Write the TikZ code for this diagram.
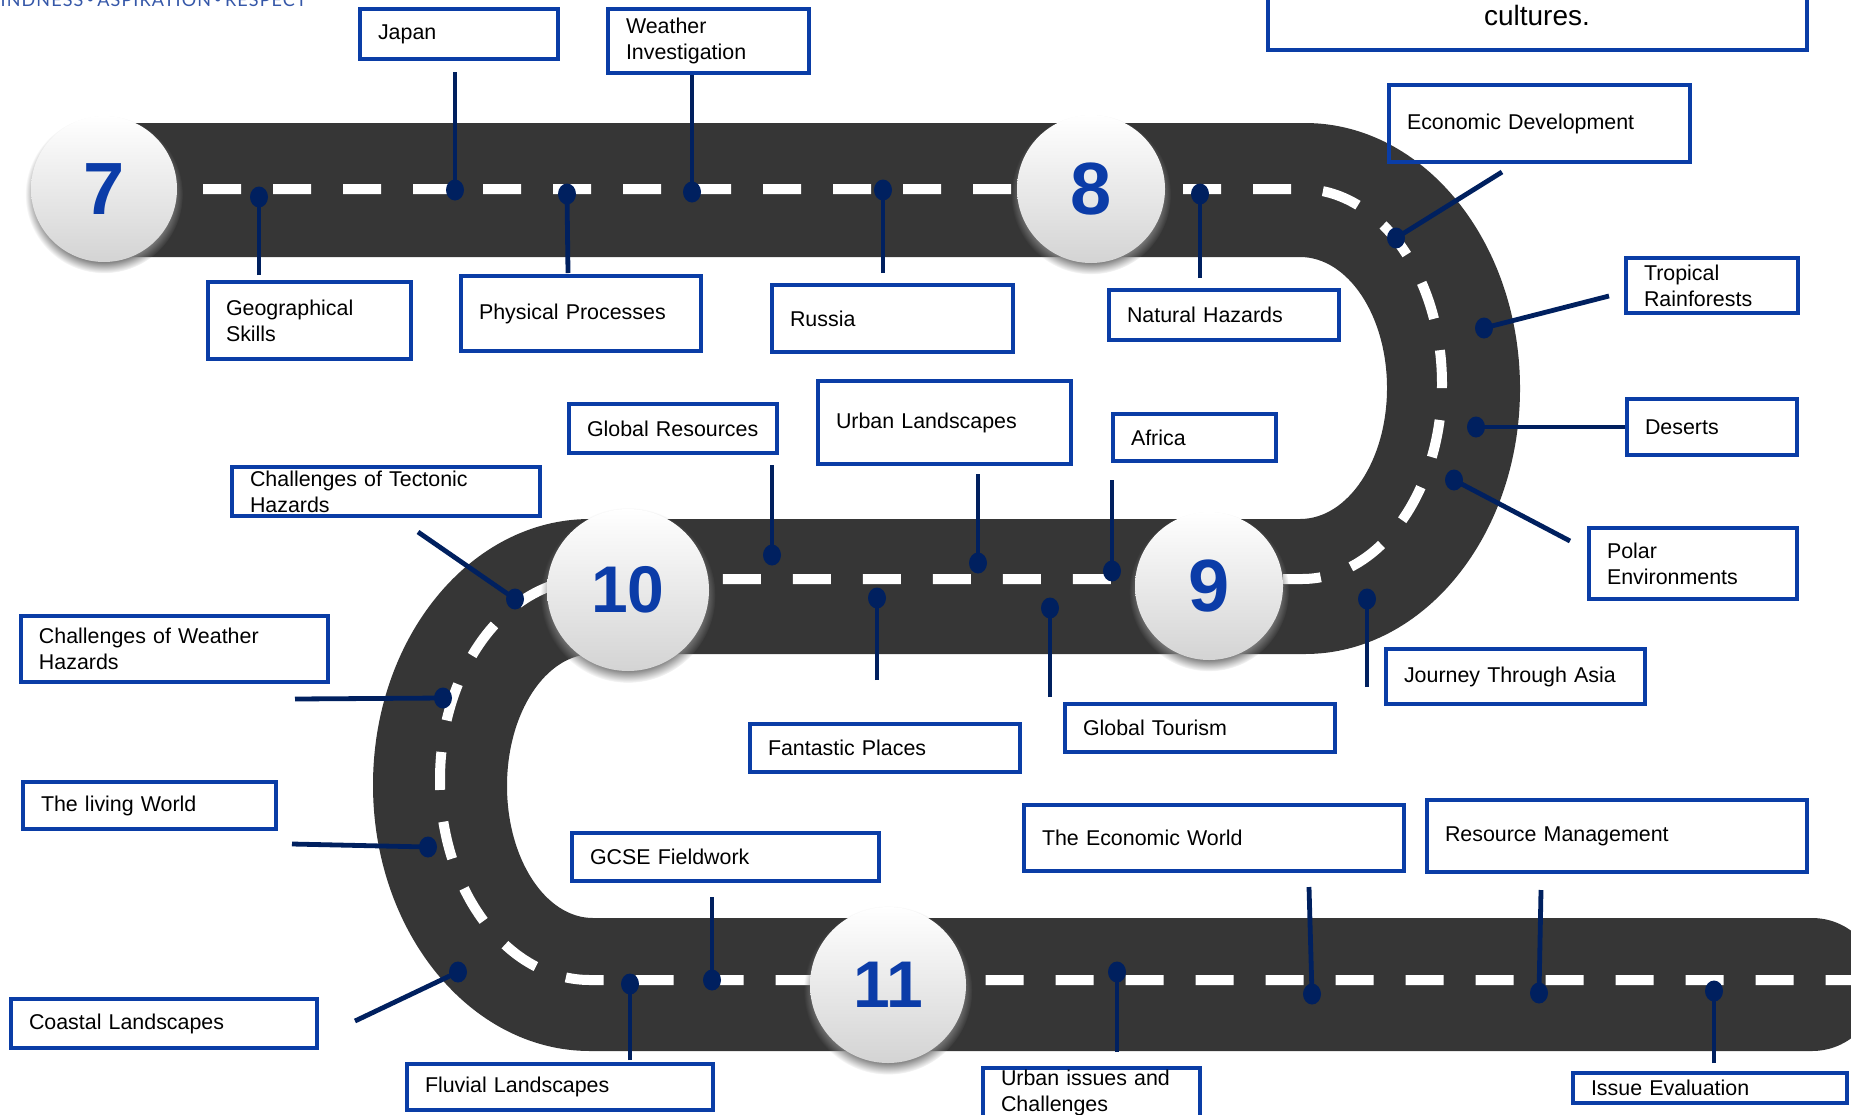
\documentclass[tikz,border=0pt]{standalone}
\usepackage{fontspec}
\setmainfont{Liberation Sans}
\newfontfamily\mottofont[LetterSpace=6]{Lato}
\usetikzlibrary{shadows}
\definecolor{roadgray}{HTML}{363636}
\definecolor{boxblue}{HTML}{0A3DA6}
\definecolor{navy}{HTML}{00205F}
\definecolor{numblue}{HTML}{0B3CA8}
\definecolor{mottoblue}{HTML}{3557A8}
\tikzset{
  lbox/.style={draw=boxblue, line width=2pt, rectangle, inner xsep=9pt, inner ysep=0.5pt,
    align=left, font=\fontsize{10.7}{13}\selectfont},
  conn/.style={draw=navy, line width=2.4pt},
  dotmark/.style={fill=navy},
  milestone/.style={circle, top color=white, bottom color=black!17, draw=none,
    circular drop shadow={shadow xshift=0pt, shadow yshift=-2.5pt, shadow scale=1.08},
    text=numblue, inner sep=0pt},
  bignum/.style={font=\bfseries\fontsize{37}{37}\selectfont},
  midnum/.style={font=\bfseries\fontsize{33}{33}\selectfont},
  road/.style={fill=roadgray},
  centerline/.style={draw=white, line width=5pt, dash pattern=on 19pt off 16pt},
}
\newcommand{\roadlabel}[6]{%
  \pgfmathsetmacro\bw{(#4-#2-4)*0.5}%
  \pgfmathsetmacro\bh{(#5-#3-4)*0.5}%
  \pgfmathsetmacro\tw{\bw-18}%
  \node[lbox, minimum width=\bw pt, minimum height=\bh pt, text width=\tw pt] (#1) at ({(#2+#4)/2},{(#3+#5)/2}) {#6};}
\newcommand{\roadlink}[5]{%
  \coordinate (d#1) at (#2,#3);
  \coordinate (e#1) at (#4,#5);
  \draw[conn] (e#1) -- (d#1);
  \fill[dotmark] (d#1) ellipse[x radius=9, y radius=10.5];}
\begin{document}
\begin{tikzpicture}[x=0.5pt, y=-0.5pt]
\useasboundingbox (0,0) rectangle (1851,1114);
\clip (0,0) rectangle (1851,1114);
% road
\fill[road] (110,123) -- (1305,123)
  arc[start angle=-90, end angle=90, x radius=215, y radius=265.5]
  -- (593,654)
  arc[start angle=-90, end angle=-270, x radius=86, y radius=132]
  -- (1812,918)
  arc[start angle=-90, end angle=90, x radius=66.5, y radius=66.5]
  -- (590,1051)
  arc[start angle=90, end angle=270, x radius=217, y radius=266]
  -- (1300,519)
  arc[start angle=90, end angle=-90, x radius=87, y radius=131]
  -- (110,257) -- cycle;
% centre line
\draw[centerline] (203,189) -- (1302,189)
  arc[start angle=-90, end angle=90, x radius=140, y radius=195]
  -- (590,579)
  arc[start angle=-90, end angle=-270, x radius=150, y radius=200.5]
  -- (1870,980);
% milestones
\node[milestone, bignum, minimum size=73pt] (m7) at (104,189) {7};
\node[milestone, bignum, minimum size=74pt] (m8) at (1091,189) {8};
\node[milestone, bignum, minimum size=74pt] (m9) at (1209,586) {9};
\node[milestone, midnum, minimum size=81pt] (m10) at (628,590) {10};
\node[milestone, midnum, minimum size=78pt] (m11) at (888,985) {11};
% motto
\node[anchor=base east, text=mottoblue, inner sep=0pt, font=\mottofont\fontsize{9}{9}\selectfont] (motto) at (307,6) {KINDNESS\,\raisebox{0.15em}{\scriptsize•}\,ASPIRATION\,\raisebox{0.15em}{\scriptsize•}\,RESPECT};
% top box
\node[draw=boxblue, line width=2pt, rectangle, minimum width=269.5pt, minimum height=45pt, inner sep=0pt] (topbox) at (1537.5,5) {};
\node[anchor=base, inner sep=0pt, font=\fontsize{14}{14}\selectfont] (toptext) at (1537,25) {cultures.};
% connectors
\roadlink{geog}{259}{197}{259}{275}
\roadlink{japan}{455}{190}{455}{72}
\roadlink{phys}{567}{194}{568}{273}
\roadlink{weather}{692}{192}{692}{75}
\roadlink{russia}{883}{190}{883}{273}
\roadlink{nathaz}{1200}{194}{1200}{278}
\roadlink{ecodev}{1396}{238}{1502}{172}
\roadlink{tropical}{1484}{328}{1609}{296}
\roadlink{deserts}{1476}{427}{1625}{427}
\roadlink{polar}{1454}{480}{1570}{541}
\roadlink{journey}{1367}{599}{1367}{687}
\roadlink{globalres}{772}{555}{772}{465}
\roadlink{fantastic}{877}{598}{877}{680}
\roadlink{urbanland}{978}{563}{978}{474}
\roadlink{tourism}{1050}{608}{1050}{697}
\roadlink{africa}{1112}{571}{1112}{480}
\roadlink{tectonic}{515}{599}{418}{532}
\roadlink{weatherhz}{443}{698}{295}{699}
\roadlink{living}{428}{847}{292}{844}
\roadlink{coastal}{458}{972}{355}{1021}
\roadlink{fluvial}{630}{984}{630}{1060}
\roadlink{gcse}{712}{980}{712}{897}
\roadlink{urbanissues}{1117}{972}{1117}{1052}
\roadlink{ecoworld}{1312}{994}{1309}{887}
\roadlink{resmgmt}{1539}{993}{1541}{890}
\roadlink{issueeval}{1714}{991}{1714}{1063}
% label boxes
\roadlabel{japan}{358}{7}{560}{61}{Japan}
\roadlabel{weather}{606}{7}{811}{75}{Weather\\Investigation}
\roadlabel{geog}{206}{280}{413}{361}{Geographical\\Skills}
\roadlabel{phys}{459}{274}{703}{353}{Physical Processes}
\roadlabel{russia}{770}{283}{1015}{354}{Russia}
\roadlabel{nathaz}{1107}{288}{1341}{342}{Natural Hazards}
\roadlabel{ecodev}{1387}{83}{1692}{164}{Economic Development}
\roadlabel{tropical}{1624}{256}{1800}{315}{Tropical\\Rainforests}
\roadlabel{deserts}{1625}{397}{1799}{457}{Deserts}
\roadlabel{polar}{1587}{526}{1799}{601}{Polar\\Environments}
\roadlabel{journey}{1384}{647}{1647}{706}{Journey Through Asia}
\roadlabel{tourism}{1063}{702}{1337}{754}{Global Tourism}
\roadlabel{africa}{1111}{412}{1278}{463}{Africa}
\roadlabel{urbanland}{816}{379}{1073}{466}{Urban Landscapes}
\roadlabel{globalres}{567}{402}{779}{455}{Global Resources}
\roadlabel{fantastic}{748}{722}{1022}{774}{Fantastic Places}
\roadlabel{tectonic}{230}{465}{542}{518}{Challenges of Tectonic\\Hazards}
\roadlabel{weatherhz}{19}{614}{330}{684}{Challenges of Weather\\Hazards}
\roadlabel{living}{21}{780}{278}{831}{The living World}
\roadlabel{gcse}{570}{831}{881}{883}{GCSE Fieldwork}
\roadlabel{coastal}{9}{997}{319}{1050}{Coastal Landscapes}
\roadlabel{fluvial}{405}{1062}{715}{1112}{Fluvial Landscapes}
\roadlabel{ecoworld}{1022}{803}{1406}{873}{The Economic World}
\roadlabel{resmgmt}{1425}{798}{1809}{874}{Resource Management}
\roadlabel{urbanissues}{981}{1066}{1202}{1120}{Urban issues and\\Challenges}
\roadlabel{issueeval}{1571}{1071}{1849}{1105}{Issue Evaluation}
\end{tikzpicture}
\end{document}
